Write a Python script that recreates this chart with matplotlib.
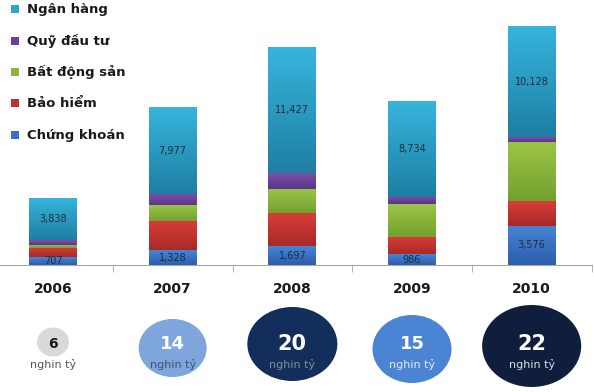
import numpy as np
import matplotlib
matplotlib.use('Agg')
import matplotlib.pyplot as plt
from matplotlib.patches import Ellipse
from matplotlib.colors import LinearSegmentedColormap

years = ['2006', '2007', '2008', '2009', '2010']
chung_khoan = [707, 1328, 1697, 986, 3576]
bao_hiem = [850, 2670, 3000, 1600, 2245]
bat_dong_san = [300, 1425, 2215, 2970, 5340]
quy_dau_tu = [390, 1000, 1455, 670, 455]
ngan_hang = [3838, 7977, 11427, 8734, 10128]
totals = ['6', '14', '20', '15', '22']
unit = 'nghin tỷ'

names = ['Chứng khoán', 'Bảo hiểm', 'Bất động sản', 'Quỹ đầu tư', 'Ngân hàng']
series = [chung_khoan, bao_hiem, bat_dong_san, quy_dau_tu, ngan_hang]
# (top colour, bottom colour) of each segment, and legend colour
grad = [('#4784d6', '#2c5eac'), ('#d83c37', '#a82a28'), ('#9cc546', '#73a030'),
        ('#7b50a9', '#5b3587'), ('#36b5dd', '#1f7ea3')]
key_col = ['#3a70c4', '#c0302f', '#8cb63c', '#6b3fa0', '#2aa7cf']
labelled = [0, 4]

W, H, dpi = 594, 392, 100
fig = plt.figure(figsize=(W / dpi, H / dpi), dpi=dpi)
ax = fig.add_axes([0, (H - 265) / H, 591.5 / W, 265 / H])

x = np.arange(len(years))
bottom = np.zeros(len(years))
for k, vals in enumerate(series):
    bars = ax.bar(x, vals, 0.40, bottom=bottom, color='none', linewidth=0)
    cmap = LinearSegmentedColormap.from_list('g%d' % k, [grad[k][1], grad[k][0]])
    for b in bars:
        x0, y0 = b.get_x(), b.get_y()
        im = ax.imshow(np.linspace(0, 1, 64).reshape(-1, 1), cmap=cmap, origin='lower',
                       aspect='auto', extent=[x0, x0 + b.get_width(), y0, y0 + b.get_height()],
                       zorder=1)
        im.set_clip_path(b)
    if k in labelled:
        for i, v in enumerate(vals):
            ax.text(x[i], bottom[i] + v / 2, '{:,}'.format(v), ha='center', va='center',
                    fontsize=7, color='#1e2c3c', zorder=3)
    bottom += np.array(vals)

ax.set_xlim(-0.443, 4.5)
ax.set_ylim(0, 265 * 91)
for s in ['top', 'right', 'left']:
    ax.spines[s].set_visible(False)
ax.spines['bottom'].set_color('#a6a6a6')
ax.set_yticks([])
ax.set_xticks(x)
ax.set_xticklabels(years, fontsize=10, fontweight='bold', color='#1a1a1a')
ax.set_xticks(x[:-1] + 0.5, minor=True)
ax.set_xticks(list(x + 0.5), minor=True)
ax.tick_params(axis='x', which='major', length=0, pad=12)
ax.tick_params(axis='x', which='minor', length=5, color='#a6a6a6')

# legend, top left
lg = fig.add_axes([0, 0, 1, 1])
lg.set_xlim(0, W)
lg.set_ylim(H, 0)
lg.axis('off')
rows = [135, 103, 72, 41, 9]
for k in range(len(names)):
    lg.scatter(15, rows[k], s=30, marker='s', color=key_col[k], linewidths=0)
    lg.text(27, rows[k], names[k], fontsize=9.5, fontweight='bold', color='#1a1a1a',
            va='center', ha='left')

# totals bubbles
bub_w = [32, 68, 90, 79, 99]
bub_h = [29, 58, 74, 68, 82]
bub_y = [342, 348, 344, 349, 346]
bub_col = ['#d9d9d9', '#7ea6dc', '#132e5a', '#4a84d2', '#0e1e3c']
num_col = ['#1a1a1a', 'white', 'white', 'white', 'white']
num_size = [10, 13, 15, 13, 15]
unit_col = ['#555555', '#3b5578', '#7f8ba3', '#e0ebfa', '#d5dde8']
bx = fig.add_axes([0, 0, 591.5 / W, 100 / H])
bx.set_xlim(-0.443, 4.5)
bx.set_ylim(392, 292)
bx.axis('off')
for i in range(len(totals)):
    bx.add_patch(Ellipse((x[i], bub_y[i]), bub_w[i] / 119.6, bub_h[i],
                         facecolor=bub_col[i], edgecolor='none'))
    bx.text(x[i], 344, totals[i], ha='center', va='center', fontsize=num_size[i],
            fontweight='bold', color=num_col[i])
    bx.text(x[i], 365, unit, ha='center', va='center', fontsize=8, color=unit_col[i])

fig.savefig('out.png', dpi=dpi)
